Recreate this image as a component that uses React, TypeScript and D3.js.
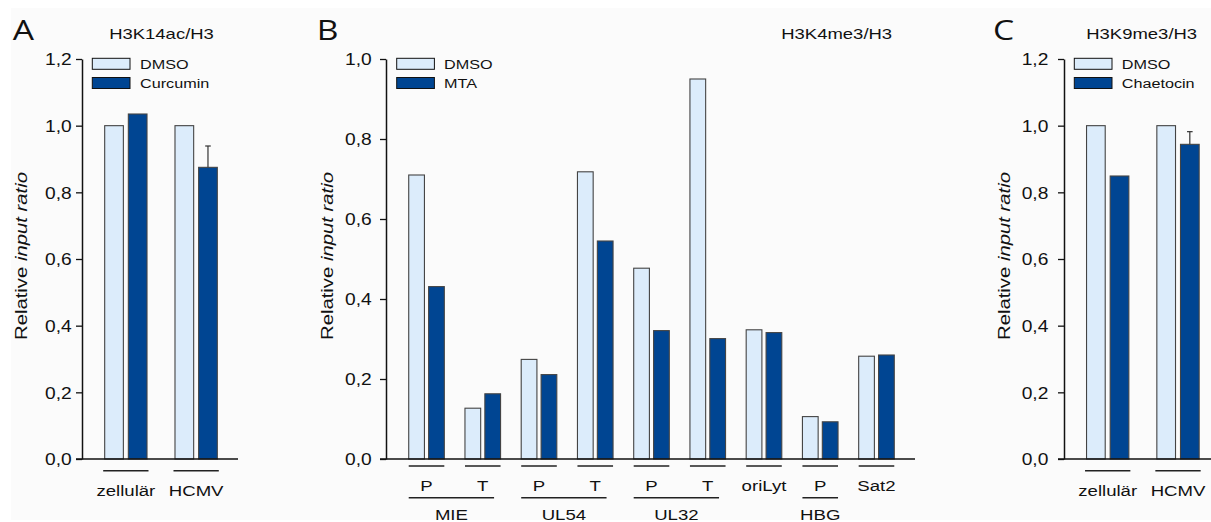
import React, { useEffect, useRef } from "react";
import * as d3 from "d3";

const W = 1211;
const H = 522;
const S = 1.2; // horizontal text stretch seen in the reference
const FONT = "'Liberation Sans', Arial, Helvetica, sans-serif";
const LETTER_FONT = "'Open Sans', 'Noto Sans', sans-serif";
const LIGHT = "#dcecfb";
const DARK = "#004592";
const EDGE = "#444";
const INK = "#111";

// ---------- data ----------
const catsA = ["zellulär", "HCMV"];
const dmsoA = [1.0, 1.0];
const curcuminA = [1.035, 0.875];
const errCurcuminA = [0, 0.064];

const catsB = ["P", "T", "P", "T", "P", "T", "oriLyt", "P", "Sat2"];
const genesB = [
  { name: "MIE", first: 0, last: 1 },
  { name: "UL54", first: 2, last: 3 },
  { name: "UL32", first: 4, last: 5 },
  { name: "HBG", first: 7, last: 7 },
];
const dmsoB = [0.71, 0.127, 0.249, 0.718, 0.477, 0.95, 0.323, 0.106, 0.257];
const mtaB = [0.431, 0.163, 0.211, 0.545, 0.321, 0.301, 0.316, 0.093, 0.26];

const catsC = ["zellulär", "HCMV"];
const dmsoC = [1.0, 1.0];
const chaetocinC = [0.849, 0.944];
const errChaetocinC = [0, 0.038];

const ticksAC = [0, 0.2, 0.4, 0.6, 0.8, 1.0, 1.2];
const ticksB = [0, 0.2, 0.4, 0.6, 0.8, 1.0];

type PanelCfg = {
  letter: string;
  letterX: number;
  title: string;
  titleX: number;
  axisX: number;
  axisEnd: number;
  yMax: number;
  ticks: number[];
  band: [number, number];
  groupFrac: number;
  labelGap: number;
  yLabelX: number;
  legendX: number;
  legendTextX: number;
  names: string[];
  cats: string[];
  series: number[][];
  err?: number[];
  catY: number;
  underlineY: number;
  underlineExt: number;
  genes?: { name: string; first: number; last: number }[];
};

const panels: PanelCfg[] = [
  {
    letter: "A", letterX: 12.7, title: "H3K14ac/H3", titleX: 161.5,
    axisX: 82, axisEnd: 238, yMax: 1.2, ticks: ticksAC,
    band: [90.7, 231.3], groupFrac: 0.602, labelGap: 10.3, yLabelX: 26.5,
    legendX: 92.3, legendTextX: 140, names: ["DMSO", "Curcumin"],
    cats: catsA, series: [dmsoA, curcuminA], err: errCurcuminA,
    catY: 496, underlineY: 470.7, underlineExt: 1.5,
  },
  {
    letter: "B", letterX: 316.7, title: "H3K4me3/H3", titleX: 836.7,
    axisX: 386, axisEnd: 915, yMax: 1.0, ticks: ticksB,
    band: [398.4, 904.6], groupFrac: 0.633, labelGap: 14.3, yLabelX: 333,
    legendX: 396.7, legendTextX: 444, names: ["DMSO", "MTA"],
    cats: catsB, series: [dmsoB, mtaB],
    catY: 490.7, underlineY: 466, underlineExt: 0, genes: genesB,
  },
  {
    letter: "C", letterX: 993, title: "H3K9me3/H3", titleX: 1141.7,
    axisX: 1064, axisEnd: 1211, yMax: 1.2, ticks: ticksAC,
    band: [1072.55, 1213.15], groupFrac: 0.602, labelGap: 15.7, yLabelX: 1010,
    legendX: 1074.3, legendTextX: 1121.7, names: ["DMSO", "Chaetocin"],
    cats: catsC, series: [dmsoC, chaetocinC], err: errChaetocinC,
    catY: 496, underlineY: 470.7, underlineExt: 1.5,
  },
];

const Y0 = 459;
const YTOP = 59;
const FILLS = [LIGHT, DARK];

function T({ x, y, size, anchor = "start", children, family = FONT, weight = 400 }: any) {
  return (
    <text
      transform={`translate(${x},${y}) scale(${S},1)`}
      fontFamily={family}
      fontSize={size}
      fontWeight={weight}
      textAnchor={anchor}
      fill={INK}
    >
      {children}
    </text>
  );
}

function Panel({ cfg }: { cfg: PanelCfg }) {
  const axisRef = useRef<SVGGElement>(null);
  const y = d3.scaleLinear().domain([0, cfg.yMax]).range([Y0, YTOP]);
  const idx = cfg.cats.map((_, i) => String(i));
  const x0 = d3.scaleBand<string>().domain(idx).range(cfg.band).paddingInner(0);
  const gw = x0.step() * cfg.groupFrac;
  const x1 = d3
    .scaleBand<string>()
    .domain(cfg.names)
    .range([-gw / 2, gw / 2])
    .paddingInner(0.21);
  const cx = (i: number) => (x0(String(i)) as number) + x0.bandwidth() / 2;

  useEffect(() => {
    if (!axisRef.current) return;
    const g = d3.select(axisRef.current);
    g.selectAll("*").remove();
    g.call(
      d3
        .axisLeft(y)
        .tickValues(cfg.ticks)
        .tickSize(6)
        .tickSizeOuter(0)
        .tickFormat((d: any) => d3.format(".1f")(d).replace(".", ","))
    );
    g.select(".domain").attr("stroke", INK).attr("stroke-width", 1.5);
    g.selectAll(".tick line").attr("stroke", INK).attr("stroke-width", 1.3);
    g.selectAll(".tick text")
      .attr("x", null)
      .attr("dy", "0.36em")
      .attr("transform", `translate(${-cfg.labelGap},0) scale(${S},1)`)
      .attr("font-family", FONT)
      .attr("font-size", 16)
      .attr("fill", INK);
  });

  return (
    <g>
      {/* panel letter */}
      <T x={cfg.letterX} y={40} size={28} family={LETTER_FONT}>{cfg.letter}</T>
      {/* title */}
      <T x={cfg.titleX} y={39} size={15.4} anchor="middle">{cfg.title}</T>
      {/* y label */}
      <text
        transform={`translate(${cfg.yLabelX},256) rotate(-90)`}
        fontFamily={FONT}
        fontSize={16}
        textAnchor="middle"
        textLength={168}
        lengthAdjust="spacingAndGlyphs"
        fill={INK}
      >
        Relative <tspan fontStyle="italic">input ratio</tspan>
      </text>
      {/* bars */}
      {cfg.series.map((vals, s) =>
        vals.map((v, i) => (
          <rect
            key={`b${s}-${i}`}
            x={cx(i) + (x1(cfg.names[s]) as number)}
            y={y(v)}
            width={x1.bandwidth()}
            height={Y0 - y(v)}
            fill={FILLS[s]}
            stroke={EDGE}
            strokeWidth={1.1}
          />
        ))
      )}
      {/* error bars */}
      {cfg.err &&
        cfg.err.map((e, i) => {
          if (!e) return null;
          const v = cfg.series[1][i];
          const bx = cx(i) + (x1(cfg.names[1]) as number) + x1.bandwidth() / 2;
          return (
            <g key={`e${i}`} stroke="#333" strokeWidth={1.2}>
              <line x1={bx} x2={bx} y1={y(v)} y2={y(v + e)} />
              <line x1={bx - 2.8} x2={bx + 2.8} y1={y(v + e)} y2={y(v + e)} />
            </g>
          );
        })}
      {/* x axis baseline */}
      <line x1={cfg.axisX - 6} x2={cfg.axisEnd} y1={Y0} y2={Y0} stroke={INK} strokeWidth={1.6} />
      {/* y axis */}
      <g ref={axisRef} transform={`translate(${cfg.axisX},0)`} />
      {/* category underlines + labels */}
      {cfg.cats.map((c, i) => (
        <g key={`c${i}`}>
          <line
            x1={cx(i) - gw / 2 - cfg.underlineExt}
            x2={cx(i) + gw / 2 + cfg.underlineExt}
            y1={cfg.underlineY}
            y2={cfg.underlineY}
            stroke="#222"
            strokeWidth={1.4}
          />
          <T x={cx(i)} y={cfg.catY} size={15.5} anchor="middle">{c}</T>
        </g>
      ))}
      {/* gene groups */}
      {cfg.genes &&
        cfg.genes.map((g) => {
          const l = cx(g.first) - gw / 2;
          const r = cx(g.last) + gw / 2 - (g.last > g.first ? 6.5 : 0);
          return (
            <g key={g.name}>
              <line x1={l} x2={r} y1={497.7} y2={497.7} stroke="#222" strokeWidth={1.4} />
              <T x={(l + r) / 2} y={519.5} size={15.5} anchor="middle">{g.name}</T>
            </g>
          );
        })}
      {/* legend */}
      {cfg.names.map((n, s) => (
        <g key={`l${n}`}>
          <rect
            x={cfg.legendX}
            y={58.3 + s * 19.2}
            width={37.7}
            height={11}
            fill={FILLS[s]}
            stroke={INK}
            strokeWidth={1}
          />
          <T x={cfg.legendTextX} y={68.6 + s * 19.4} size={13.5}>{n}</T>
        </g>
      ))}
    </g>
  );
}

export default function App() {
  return (
    <svg width={W} height={H} style={{ display: "block", position: "absolute", left: 0, top: 0 }}>
      <rect x={0} y={0} width={W} height={H} fill="#ffffff" />
      <rect x={11} y={8} width={W - 11} height={H - 10} fill="#fbfbfb" />
      {panels.map((p) => (
        <Panel key={p.letter} cfg={p} />
      ))}
    </svg>
  );
}
